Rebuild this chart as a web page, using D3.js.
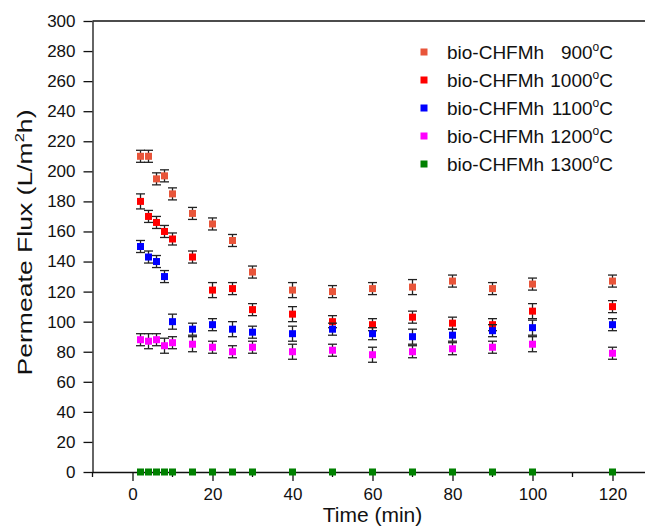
<!DOCTYPE html>
<html lang="en">
<head>
    <meta charset="UTF-8">
    <title>Permeate Flux vs Time</title>
    <script src="https://d3js.org/d3.v7.min.js"></script>
    <style>
        body { margin: 0; background: #fff; }
        text { font-family: "Liberation Sans", Arial, sans-serif; fill: #111; }
        .axis path, .axis line { stroke: #111; stroke-width: 1.3px; }
        .ebar { stroke: #222; stroke-width: 1.3px; }
    </style>
</head>
<body>
    <div id="chart"></div>

    <script>
        // time points (min)
        const times = [2, 4, 6, 8, 10, 15, 20, 25, 30, 40, 50, 60, 70, 80, 90, 100, 120];

        // permeate flux for each sintering temperature (L/m2h)
        const flux900  = [210, 210, 195, 197, 185, 172, 165, 154, 133, 121, 120, 122, 123, 127, 122, 125, 127];
        const flux1000 = [180, 170, 166, 160, 155, 143, 121, 122, 108, 105, 100, 98, 103, 99, 98, 107, 110];
        const flux1100 = [150, 143, 140, 130, 100, 95, 98, 95, 93, 92, 95, 92, 90, 91, 94, 96, 98];
        const flux1200 = [88, 87, 88, 84, 86, 85, 83, 80, 83, 80, 81, 78, 80, 82, 83, 85, 79];
        const flux1300 = [0, 0, 0, 0, 0, 0, 0, 0, 0, 0, 0, 0, 0, 0, 0, 0, 0];

        // error bar half widths
        const err900  = [4, 4, 4, 4, 4, 4, 4, 4, 4, 5, 4, 4, 5, 4, 4, 4, 4];
        const err1000 = [5, 4, 4, 4, 4, 4, 5, 4, 4, 5, 4, 4, 4, 4, 4, 5, 4];
        const err1100 = [4, 4, 4, 4, 5, 4, 4, 5, 4, 5, 4, 4, 5, 4, 4, 5, 4];
        const err1200 = [4, 5, 4, 5, 4, 5, 4, 4, 4, 5, 4, 5, 4, 4, 4, 5, 4];
        const err1300 = [0, 0, 0, 0, 0, 0, 0, 0, 0, 0, 0, 0, 0, 0, 0, 0, 0];

        const names = ['bio-CHFMh', 'bio-CHFMh', 'bio-CHFMh', 'bio-CHFMh', 'bio-CHFMh'];
        const temps = ['900', '1000', '1100', '1200', '1300'];
        const colors = ['#E8553A', '#FF0000', '#0000FF', '#FF00FF', '#008000'];

        const yTicks = d3.range(0, 301, 20);
        const xTicks = [0, 20, 40, 60, 80, 100, 120];
        const xMinor = [-10, 10, 30, 50, 70, 90, 110, 130];

        const errs = [err900, err1000, err1100, err1200, err1300];
        const series = [flux900, flux1000, flux1100, flux1200, flux1300].map((vals, i) => ({
            name: names[i],
            temp: temps[i],
            color: colors[i],
            points: times.map((t, j) => ({ t: t, v: vals[j], e: errs[i][j] }))
        }));

        const width = 645;
        const height = 528;
        const margin = { top: 21, left: 92.5, bottom: 56 };
        const innerH = height - margin.top - margin.bottom;

        const svg = d3.select('#chart').append('svg')
            .attr('width', width)
            .attr('height', height);

        const x = d3.scaleLinear().domain([-10, 130]).range([margin.left, margin.left + 560]);
        const y = d3.scaleLinear().domain([0, 300]).range([margin.top + innerH, margin.top]);

        // top frame line
        svg.append('line')
            .attr('x1', margin.left).attr('x2', width + 10)
            .attr('y1', y(300)).attr('y2', y(300))
            .attr('stroke', '#111').attr('stroke-width', 1.3);

        // x axis
        const gx = svg.append('g')
            .attr('class', 'axis')
            .attr('transform', `translate(0,${y(0)})`)
            .call(d3.axisBottom(x).tickValues(xTicks).tickSize(9).tickPadding(7).tickSizeOuter(0));
        gx.selectAll('text').style('font-size', '17px');
        gx.selectAll('.minor')
            .data(xMinor)
            .enter().append('line')
            .attr('class', 'minor')
            .attr('x1', d => x(d)).attr('x2', d => x(d))
            .attr('y1', 0).attr('y2', 5)
            .attr('stroke', '#111').attr('stroke-width', 1.3);

        // y axis
        const gy = svg.append('g')
            .attr('class', 'axis')
            .attr('transform', `translate(${margin.left},0)`)
            .call(d3.axisLeft(y).tickValues(yTicks).tickSize(9).tickPadding(8).tickSizeOuter(0));
        gy.selectAll('text').style('font-size', '17px');

        // axis titles
        svg.append('text')
            .attr('x', x(60))
            .attr('y', 522)
            .attr('text-anchor', 'middle')
            .style('font-size', '21px')
            .text('Time (min)');

        const ylab = svg.append('text')
            .attr('transform', `translate(32,${(y(0) + y(300)) / 2 - 4}) rotate(-90)`)
            .attr('text-anchor', 'middle')
            .attr('textLength', 266)
            .attr('lengthAdjust', 'spacingAndGlyphs')
            .style('font-size', '21px');
        ylab.append('tspan').text('Permeate Flux (L/m');
        ylab.append('tspan').attr('dy', -8).style('font-size', '13px').text('2');
        ylab.append('tspan').attr('dy', 8).text('h)');

        // error bars and markers
        const groups = svg.append('g').selectAll('g')
            .data(series)
            .enter().append('g');

        groups.each(function (s) {
            const g = d3.select(this);
            const pts = s.points.filter(p => p.e > 0);
            g.selectAll('.ev').data(pts).enter().append('line')
                .attr('class', 'ebar')
                .attr('x1', d => x(d.t)).attr('x2', d => x(d.t))
                .attr('y1', d => y(d.v - d.e)).attr('y2', d => y(d.v + d.e));
            g.selectAll('.et').data(pts).enter().append('line')
                .attr('class', 'ebar')
                .attr('x1', d => x(d.t) - 4.5).attr('x2', d => x(d.t) + 4.5)
                .attr('y1', d => y(d.v + d.e)).attr('y2', d => y(d.v + d.e));
            g.selectAll('.eb').data(pts).enter().append('line')
                .attr('class', 'ebar')
                .attr('x1', d => x(d.t) - 4.5).attr('x2', d => x(d.t) + 4.5)
                .attr('y1', d => y(d.v - d.e)).attr('y2', d => y(d.v - d.e));
            g.selectAll('rect').data(s.points).enter().append('rect')
                .attr('x', d => x(d.t) - 3.5)
                .attr('y', d => y(d.v) - 3.5)
                .attr('width', 7).attr('height', 7)
                .attr('fill', s.color);
        });

        // legend
        const legend = svg.append('g');
        series.forEach((s, i) => {
            const ly = 52 + i * 28;
            legend.append('rect')
                .attr('x', 420.5).attr('y', ly - 3.5)
                .attr('width', 7).attr('height', 7)
                .attr('fill', s.color);
            legend.append('text')
                .attr('x', 447).attr('y', ly + 6.5)
                .style('font-size', '19px')
                .text(s.name);
            const t = legend.append('text')
                .attr('x', 613).attr('y', ly + 6.5)
                .attr('text-anchor', 'end')
                .style('font-size', '19px');
            t.append('tspan').text(s.temp);
            t.append('tspan').attr('dy', -8).style('font-size', '12px').text('o');
            t.append('tspan').attr('dy', 8).text('C');
        });
    </script>
</body>
</html>
